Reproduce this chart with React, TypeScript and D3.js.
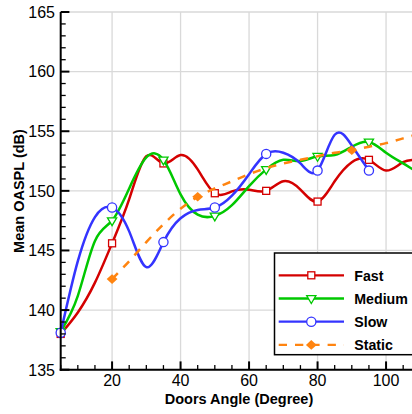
import React from 'react';
import * as d3 from 'd3';

const angles = [5, 10, 15, 20, 25, 30, 35, 40, 45, 50, 55, 60, 65, 70, 75, 80, 85, 90, 95, 100, 105, 110];
const fastValues = [138.0, 139.8, 142.3, 145.6, 149.3, 152.9, 152.3, 153.0, 151.8, 149.8, 149.95, 150.1, 150.0, 150.8, 150.1, 149.1, 150.8, 152.4, 152.6, 151.7, 152.4, 152.6];
const mediumValues = [138.2, 141.2, 145.8, 147.5, 150.2, 152.8, 152.6, 149.7, 148.0, 147.9, 148.8, 150.4, 151.8, 152.6, 152.5, 152.9, 153.0, 153.7, 154.1, 153.2, 152.3, 151.4];
const slowAngles = [5, 10, 15, 20, 25, 30, 35, 40, 45, 50, 55, 60, 65, 70, 75, 80, 85, 90, 95];
const slowValues = [138.1, 144.1, 147.8, 148.6, 146.6, 143.6, 145.7, 147.7, 148.4, 148.6, 149.6, 151.4, 153.1, 153.2, 152.3, 151.7, 154.7, 153.8, 151.7];
const staticAngles = [20, 25, 30, 35, 40, 45, 50, 55, 60, 65, 70, 75, 80, 85, 90, 95, 100, 105, 110];
const staticValues = [142.6, 144.1, 145.7, 147.2, 148.5, 149.5, 150.2, 150.8, 151.4, 151.9, 152.3, 152.6, 152.9, 153.2, 153.4, 153.7, 154.0, 154.4, 154.8];
const staticMarkerAngles = [20, 45, 90];
const markerEvery = 3;

const yTicks = [135, 140, 145, 150, 155, 160, 165];
const xTicks = [20, 40, 60, 80, 100];
const seriesNames = ['Fast', 'Medium', 'Slow', 'Static'];

const RED = '#d40000';
const GREEN = '#00c800';
const BLUE = '#3434ff';
const ORANGE = '#ff8410';
const FONT = '"Liberation Sans", Arial, Helvetica, sans-serif';

type Shape = 'square' | 'tri' | 'circle' | 'diamond';

function Marker({ cx, cy, shape, color }: { cx: number; cy: number; shape: Shape; color: string }) {
  if (shape === 'square') {
    return <rect x={cx - 3.5} y={cy - 3.5} width={7} height={7} fill="#fff" stroke={color} strokeWidth={1.3} />;
  }
  if (shape === 'tri') {
    return (
      <path
        d={`M${cx - 4.6},${cy - 2.8}L${cx + 4.6},${cy - 2.8}L${cx},${cy + 5}Z`}
        fill="#fff"
        stroke={color}
        strokeWidth={1.3}
      />
    );
  }
  if (shape === 'circle') {
    return <circle cx={cx} cy={cy} r={4.6} fill="#fff" stroke={color} strokeWidth={1.3} />;
  }
  return <path d={`M${cx},${cy - 4.8}L${cx + 5.4},${cy}L${cx},${cy + 4.8}L${cx - 5.4},${cy}Z`} fill={color} />;
}

export default function App() {
  const W = 412;
  const H = 414;
  const x = d3.scaleLinear().domain([5, 110]).range([60.7, 420.3]);
  const y = d3.scaleLinear().domain([135, 165]).range([369.7, 12]);
  const left = x(5);
  const bottom = y(135);
  const top = y(165);

  const line = d3
    .line<[number, number]>()
    .x((d) => x(d[0]))
    .y((d) => y(d[1]))
    .curve(d3.curveNatural);

  const fastPts: [number, number][] = angles.map((a, i) => [a, fastValues[i]]);
  const medPts: [number, number][] = angles.map((a, i) => [a, mediumValues[i]]);
  const slowPts: [number, number][] = slowAngles.map((a, i) => [a, slowValues[i]]);
  const statPts: [number, number][] = staticAngles.map((a, i) => [a, staticValues[i]]);

  const yMinor = d3.range(135, 166, 1);
  const xMinor = d3.range(5, 111, 5);

  const series = [
    { pts: fastPts, color: RED, shape: 'square' as Shape, dash: undefined as string | undefined, marks: fastPts.filter((_, i) => i % markerEvery === 0) },
    { pts: medPts, color: GREEN, shape: 'tri' as Shape, dash: undefined, marks: medPts.filter((_, i) => i % markerEvery === 0) },
    { pts: slowPts, color: BLUE, shape: 'circle' as Shape, dash: undefined, marks: slowPts.filter((_, i) => i % markerEvery === 0) },
    { pts: statPts, color: ORANGE, shape: 'diamond' as Shape, dash: '8.3,8', marks: statPts.filter((p) => staticMarkerAngles.includes(p[0])) },
  ];

  const legX = 274.5;
  const legY = 253;
  const legRow0 = 275.3;
  const legStep = 23.2;

  return (
    <div style={{ position: 'absolute', left: 0, top: 0 }}>
      <svg width={W} height={H} style={{ display: 'block', background: '#fff' }}>
        <rect x={0} y={0} width={W} height={H} fill="#fff" />
        {xTicks.map((t) => (
          <line key={'gx' + t} x1={x(t)} x2={x(t)} y1={top} y2={bottom} stroke="#d9d9d9" strokeWidth={1.3} />
        ))}
        {yTicks.map((t) => (
          <line key={'gy' + t} x1={left} x2={W + 10} y1={y(t)} y2={y(t)} stroke="#d9d9d9" strokeWidth={1.3} />
        ))}
        {series.map((s, si) => (
          <g key={'s' + si}>
            <path d={line(s.pts) || ''} fill="none" stroke={s.color} strokeWidth={2.5} strokeDasharray={s.dash} />
            {s.marks.map((p, i) => (
              <Marker key={i} cx={x(p[0])} cy={y(p[1])} shape={s.shape} color={s.color} />
            ))}
          </g>
        ))}
        <line x1={left} x2={left} y1={top} y2={bottom + 1} stroke="#000" strokeWidth={2} />
        <line x1={left - 1} x2={W + 10} y1={bottom} y2={bottom} stroke="#000" strokeWidth={2} />
        {yMinor.map((t) => {
          const major = t % 5 === 0;
          return (
            <line key={'yt' + t} x1={left} x2={left + (major ? 8.7 : 5)} y1={y(t)} y2={y(t)} stroke="#000" strokeWidth={major ? 2 : 1.3} />
          );
        })}
        {xMinor.map((t) => {
          const major = t % 20 === 0;
          return (
            <line key={'xt' + t} x1={x(t)} x2={x(t)} y1={bottom} y2={bottom - (major ? 8.3 : 4.6)} stroke="#000" strokeWidth={major ? 2 : 1.3} />
          );
        })}
        {yTicks.map((t) => (
          <text key={'yl' + t} x={55} y={y(t) + 5.8} textAnchor="end" fontFamily={FONT} fontSize={16} fill="#000">
            {t}
          </text>
        ))}
        {xTicks.map((t) => (
          <text key={'xl' + t} x={x(t)} y={385.5} textAnchor="middle" fontFamily={FONT} fontSize={16} fill="#000">
            {t}
          </text>
        ))}
        <text x={239} y={404} textAnchor="middle" fontFamily={FONT} fontSize={14.5} fontWeight="bold" fill="#000">
          Doors Angle (Degree)
        </text>
        <text
          transform={`translate(23.5,191) rotate(-90)`}
          textAnchor="middle"
          fontFamily={FONT}
          fontSize={14.5}
          fontWeight="bold"
          fill="#000"
        >
          Mean OASPL (dB)
        </text>
        <rect x={legX} y={legY} width={160} height={101.7} fill="#fff" stroke="#000" strokeWidth={1.5} />
        {series.map((s, i) => {
          const ly = legRow0 + i * legStep;
          return (
            <g key={'lg' + i}>
              <line x1={278.7} x2={344} y1={ly} y2={ly} stroke={s.color} strokeWidth={2.3} strokeDasharray={s.dash} />
              <Marker cx={311.3} cy={ly} shape={s.shape} color={s.color} />
              <text x={354.3} y={ly + 5.2} fontFamily={FONT} fontSize={14.2} fontWeight="bold" fill="#000">
                {seriesNames[i]}
              </text>
            </g>
          );
        })}
      </svg>
    </div>
  );
}
